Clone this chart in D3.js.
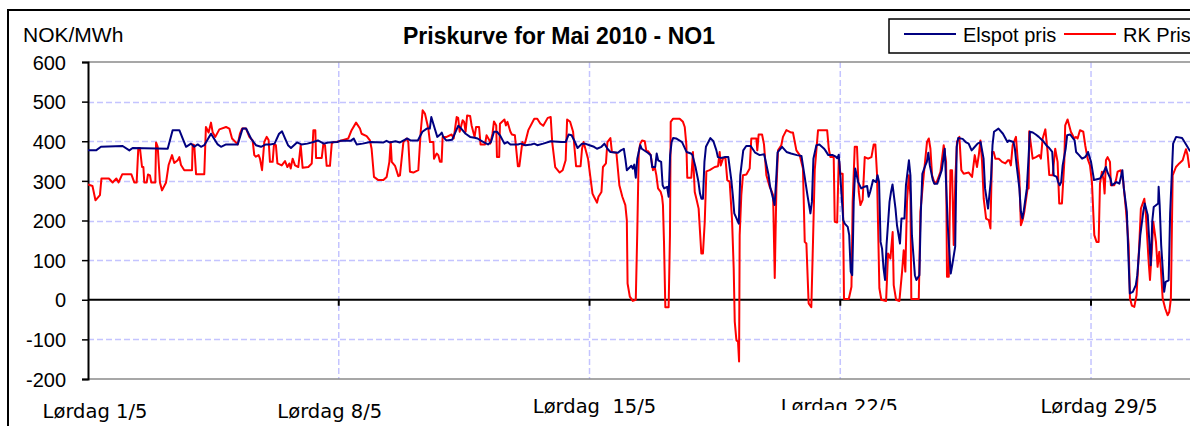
<!DOCTYPE html>
<html><head><meta charset="utf-8">
<script src="https://cdn.jsdelivr.net/npm/d3@7"></script>
<style>body{margin:0;background:#fff;overflow:hidden}svg{display:block}</style>
</head><body><svg id="c" width="1190" height="426"></svg>
<script>
// ---- data ----
const titleText = "Priskurve for Mai 2010 - NO1";
const unitLabel = "NOK/MWh";
const seriesNames = ["Elspot pris", "RK Pris"];
const yTicks = [600, 500, 400, 300, 200, 100, 0, -100, -200];
const weekHours = [0, 168, 336, 504, 672];
const weekLabels = ["Lørdag 1/5", "Lørdag 8/5", "Lørdag  15/5", "Lørdag 22/5", "Lørdag 29/5"];

const elspotHours = [0,5.4,8.7,23.2,27.7,29.9,53.4,56.7,61.2,63.4,65.7,69,71.2,73.5,75.7,77.9,82.4,86.9,89.1,92.5,100.3,103.6,105.9,109.2,112.5,115.9,119.2,
122,125,128,130,132,134,136,140,143,147,151,154,158,161,167,169,176,178,180,184,189,198,200,202,206,209,214,216,221,224,227,229,230,232,234,236,237,238,240,244,
248,250,253,256,259,261,263,265,268,270,272,274,276,279,281,283,288,290,293,297,299,301,305,310,317,320,322,324,326,328,331,333,336,339,341,344,346,348,350,355,357,359,360,361,364,365,366,367,368,370,
371,375,377,378,380,381,382,384,385,386,388,389,390,391,392,394,398,401,404,405,407,409,410,411,412,413,414,417,419,421,422,424,427,429,431,432,433,435,436,437,439,441,444,447,450,453,456,457,459,460,461,462,465,468,471,475,478,480,482,484,485,486,488,490,493,
494,496,499,501,502,503,504,506,507,509,510,511,512,512.5,513,514,516,518,520,522,523,524,526,528,529,530,531,532,533,534,535,537,538,539,541,542,544,545,547,548,550,551,552,554,555,557,558,559,561,562,563,564,566,567,569,572,574,576,578,579,581,582,583,586,588,590,592,593,596,598,600,601,603,605,606,607,610,613,616,
617,620,621,622,624,625,626,627,629,630,631,633,635,637,640,642,644,646,647,649,650,651,652,653,655,656,658,661,662,664,666,668,669,670,672,674,678,680,682,683,685,686,689,691,693,694,696,697,698,700,702,703,705,707,708,710,712,712.5,713,714,717,717.3,718,719,721,722,724,725,727,729,733,736,738,744];
const elspotValues = [377,377,386,388,377,383,381,428,428,407,386,394,386,392,386,390,419,392,386,392,392,432,432,407,390,386,392,
392,394,419,425,407,390,383,397,392,394,398,402,394,397,398,401,401,407,392,394,398,397,401,397,400,397,407,402,402,424,432,432,461,436,411,417,422,411,402,404,
439,432,419,411,409,407,402,398,392,398,424,424,415,394,398,392,392,394,390,392,394,390,394,400,398,398,417,415,400,383,394,394,390,386,381,386,394,381,373,371,377,381,356,327,338,331,341,308,356,390,
381,371,365,335,335,369,352,348,289,281,285,260,365,398,408,407,398,373,369,365,335,297,268,255,255,348,386,408,400,377,360,358,360,360,302,264,218,201,192,314,377,388,388,371,365,367,314,285,255,239,298,372,386,373,369,365,363,314,264,218,247,356,390,392,382,
377,365,365,361,357,366,314,201,192,184,163,71,62,146,247,331,297,281,285,287,260,272,302,297,314,297,146,129,79,50,138,247,272,291,230,188,142,205,205,289,352,314,163,62,50,62,222,318,339,348,371,339,302,293,293,327,381,188,66,87,134,386,408,406,398,394,377,381,394,398,356,281,230,306,390,424,432,419,398,
402,398,381,344,281,222,205,226,281,348,424,422,417,411,400,390,383,373,314,310,297,289,297,339,381,415,417,402,373,365,356,360,365,373,348,302,306,318,335,322,306,289,297,293,327,281,222,113,16,20,37,62,163,222,243,213,87,138,197,234,243,285,238,138,20,45,49,218,394,411,408,390,377,360];

const rkHours = [0,3,5,8,9,14,16.5,19,20.5,23,29,31,32.6,33.7,34.8,36.2,37.1,37.7,39.3,40.2,41.5,42.4,45.1,45.6,46.7,48.2,49.6,52.3,54,56.3,57.8,60.1,61.2,62.3,64.5,69.7,70.1,71.2,72.4,77.9,79,80.8,82.4,83.5,85.3,88,92.5,94.7,96.5,100.3,101.8,103.2,105.9,108.1,110.3,111.4,112.5,114.3,115.2,116.6,118.1,119.7,121,121.9,
123.7,124.6,125.9,126.9,129.8,132,133.6,134.9,135.8,137.1,138.7,140.9,142.5,143.8,147.6,149.9,151,152.3,152.8,156.6,157.7,158.8,159.9,162.1,163.3,164.4,166.6,174.4,176.6,179.6,182.2,183.3,186.7,188.9,190,191.6,194.5,197.9,200.1,201.9,202.8,203.5,205.7,207.9,209,211.3,213.5,214.6,215.7,218,221.3,222.9,224.2,225.8,228,229.1,231.4,231.8,233.6,234.7,235.8,236.9,237.6,240.3,243.6,
245,247,248,249,251,252,253,254,256,257,259,260,262,263,266,267,269,269.5,271,272,273.5,274,275.5,276,279,280,281,283,284,286,288,289,291,292,293,295,299,301,303,305,308,310,311,313,316,318,320,321,323,325,327,330,331,332,335,337,338,339,341,342,344,345,347,348,350,351,354,356,358,360,361,361.5,363,365,367,368,369,370,
371.2,373,374.1,375.2,377,378.5,379.7,380.8,381.9,383.7,384.6,385.2,385.9,386.8,389,389.9,390.4,392,396.4,398.6,399.8,400.9,401.5,404.2,405.3,406.5,407.6,409.1,410.9,412,413.2,414.3,416.5,419.9,422.1,423.2,423.9,425.4,427,428.3,429.9,431.5,432.6,433.3,434.4,435.5,436.2,436.6,437.7,438.8,441.1,443.3,444.4,447.8,448.4,449.3,451.6,452.9,454.5,456.7,457.8,459,460.1,461.2,462.3,464.5,465.6,467.9,471.2,472.3,474.6,476.8,479,480.2,481.3,482.8,484.6,485.7,486.9,489.1,492.4,
495.2,496.3,497.4,499.6,500.3,501.9,503,504.1,505.6,506.5,509.7,511.5,512.3,513.7,515.2,516.4,517.5,519,520.4,522.6,524.9,526.4,527.5,528.6,530.2,531.5,534.7,536,537.6,539.1,539.8,541.4,543.6,545.4,546.5,547.6,548.7,549.9,551,551.6,556.6,557.7,559.9,562.1,563.3,564.4,565.5,567.3,568.8,571.1,573.3,574.9,575.5,576.7,577.8,578.9,580,581.1,582.2,583.8,585.1,586.7,590.1,592.3,594.1,595.6,596.8,597.9,599,600.1,601.7,603.5,604.6,605.7,606.8,607.9,610.2,612.4,614.6,616.4,
617.2,618.3,619.5,621.7,622.8,623.9,625,626.2,627.3,629.5,630.2,630.6,632.9,635.1,637.3,638.4,639.6,641.4,642.9,644,646.3,648,649.6,650.7,652.5,654.1,654.7,656.3,658.5,660.8,661.9,663,664.6,666.8,668.1,669.7,671.3,672.6,674.2,675.7,677.1,678,679.3,680.4,681.1,682,683.1,684.7,685.3,687.6,688.7,689.8,692,693.6,695.4,697.2,698.1,699.4,701,702.5,704.3,705.4,707.7,708.8,710.6,711.5,712.8,713.7,715.5,716.6,717.7,718.8,720,721.7,723.3,724.4,725.5,726.7,728.9,731.1,733.4,735.6,736.7,737.8,744];
const rkValues = [291,287,251,264,306,306,296,306,296,317,317,296,296,383,383,335,335,296,296,316,314,296,296,397,386,296,276,296,340,365,345,352,360,340,327,327,392,390,317,317,436,422,447,423,411,430,436,432,407,392,419,432,432,411,402,365,361,365,356,327,398,411,403,348,
348,392,390,344,339,350,335,344,331,356,339,335,390,333,335,344,428,428,358,358,394,390,338,338,394,398,398,407,428,447,432,419,413,402,381,310,302,302,310,348,398,348,338,312,314,398,407,398,323,321,327,424,478,469,432,398,398,356,369,365,348,348,411,411,417,
407,461,459,424,453,449,424,465,464,440,411,436,436,392,392,415,402,394,419,450,440,360,360,444,455,440,449,424,417,415,337,337,398,390,398,428,457,457,445,439,459,461,398,335,321,327,352,455,449,424,337,337,381,398,356,297,268,260,245,260,272,335,344,398,408,373,371,289,260,239,201,41,8,-3,0,171,373,394,
402,400,375,375,365,327,335,314,281,272,260,239,146,-19,-19,163,449,457,457,449,436,390,308,308,373,272,255,230,117,117,197,324,327,335,337,373,339,356,360,302,298,201,79,-55,-102,-106,-156,163,264,314,316,331,407,407,377,417,417,392,314,285,276,264,55,281,377,390,411,428,422,422,377,365,331,146,142,-9,-19,142,327,428,428,
428,381,360,360,197,195,356,318,318,2,2,33,247,386,386,272,239,252,360,356,360,392,392,318,29,0,-3,117,104,171,37,0,-3,71,125,71,247,314,264,2,2,222,314,398,407,381,314,293,299,323,390,348,58,58,327,327,138,306,398,411,327,318,321,310,365,335,365,402,348,255,205,201,180,373,373,356,356,348,344,352,
352,339,390,411,356,314,188,201,222,281,281,425,356,360,365,356,407,430,373,315,314,381,348,243,243,348,440,455,424,407,411,407,428,424,390,356,339,297,163,146,146,293,323,302,268,352,360,348,289,289,302,323,327,297,226,138,3,-15,-18,12,138,230,255,213,96,50,129,197,146,83,121,79,3,-22,-39,-31,3,314,335,344,352,380,365,335,340];

// ---- layout ----
const svg = d3.select("#c");
const W = 1190, H = 426;
const plot = {left: 88, top: 62, bottom: 379};
const hourPx = 1.4926;
const x = d3.scaleLinear().domain([0, 744]).range([plot.left, plot.left + 744 * hourPx]);
const y = d3.scaleLinear().domain([-200, 600]).range([plot.bottom, plot.top]);
const gridColor = "#c4c4ff";
const fontSans = "'Liberation Sans', Arial, sans-serif";

// outer chart border
svg.append("rect").attr("x", 8).attr("y", 10).attr("width", W).attr("height", H)
  .attr("fill", "none").attr("stroke", "#000").attr("stroke-width", 2);

// horizontal gridlines
svg.append("g").selectAll("line").data(yTicks.filter(v => v !== 0 && v !== 600 && v !== -200)).join("line")
  .attr("x1", plot.left).attr("x2", W).attr("y1", d => Math.round(y(d)) + 0.5).attr("y2", d => Math.round(y(d)) + 0.5)
  .attr("stroke", gridColor).attr("stroke-width", 1.5).attr("stroke-dasharray", "6,3");
// vertical gridlines
svg.append("g").selectAll("line").data(weekHours.slice(1)).join("line")
  .attr("x1", d => x(d)).attr("x2", d => x(d)).attr("y1", plot.top).attr("y2", plot.bottom)
  .attr("stroke", gridColor).attr("stroke-width", 1.5).attr("stroke-dasharray", "6,3");

// plot frame (top and bottom gray)
svg.append("line").attr("x1", plot.left).attr("x2", W).attr("y1", plot.top).attr("y2", plot.top)
  .attr("stroke", "#8a8a8a").attr("stroke-width", 1.5);
svg.append("line").attr("x1", plot.left).attr("x2", W).attr("y1", plot.bottom).attr("y2", plot.bottom)
  .attr("stroke", "#8a8a8a").attr("stroke-width", 1.5);

// zero line (category axis)
svg.append("line").attr("x1", plot.left).attr("x2", W).attr("y1", y(0)).attr("y2", y(0))
  .attr("stroke", "#000").attr("stroke-width", 2);
svg.append("g").selectAll("line").data(weekHours.slice(1)).join("line")
  .attr("x1", d => x(d)).attr("x2", d => x(d)).attr("y1", y(0)).attr("y2", y(0) + 6)
  .attr("stroke", "#000").attr("stroke-width", 2);

// y axis
const yAxis = d3.axisLeft(y).tickValues(yTicks).tickSize(6).tickPadding(16).tickFormat(d => String(d));
const ya = svg.append("g").attr("transform", `translate(${plot.left},0)`).call(yAxis);
ya.select(".domain").attr("stroke", "#000").attr("stroke-width", 2);
ya.selectAll(".tick line").attr("stroke", "#000").attr("stroke-width", 1.5);
ya.selectAll(".tick text").attr("font-family", fontSans).attr("font-size", 20).attr("fill", "#000")
  .attr("dy", "0.36em");

// series lines
const clip = svg.append("clipPath").attr("id", "pc").append("rect")
  .attr("x", plot.left).attr("y", plot.top - 2).attr("width", W - plot.left).attr("height", plot.bottom - plot.top + 4);
const line = d3.line().x(d => x(d[0])).y(d => y(d[1]));
const elspot = elspotHours.map((h, i) => [h, elspotValues[i]]);
const rk = rkHours.map((h, i) => [h, rkValues[i]]);
const g = svg.append("g").attr("clip-path", "url(#pc)");
g.append("path").datum(rk).attr("d", line).attr("fill", "none").attr("stroke", "#ff0000")
  .attr("stroke-width", 2).attr("stroke-linejoin", "round");
g.append("path").datum(elspot).attr("d", line).attr("fill", "none").attr("stroke", "#000080")
  .attr("stroke-width", 2).attr("stroke-linejoin", "round");

// x labels
const labelDx = [7, -9, 5, -1, 8];
const labelBase = [418, 418, 413, 413, 413];
svg.append("clipPath").attr("id", "lc").append("rect").attr("x", 0).attr("y", 0).attr("width", W).attr("height", 410);
svg.append("g").selectAll("text").data(weekHours).join("text")
  .attr("x", (d, i) => x(d) + labelDx[i]).attr("y", (d, i) => labelBase[i])
  .attr("text-anchor", "middle").attr("font-family", "'DejaVu Sans', Verdana, sans-serif")
  .attr("font-size", 19.5).attr("fill", "#000").style("white-space", "pre")
  .attr("clip-path", (d, i) => i === 3 ? "url(#lc)" : null)
  .text((d, i) => weekLabels[i]);

// unit label and title
svg.append("text").attr("x", 23).attr("y", 42).attr("font-family", fontSans).attr("font-size", 21)
  .attr("fill", "#000").text(unitLabel);
svg.append("text").attr("x", 559).attr("y", 44).attr("text-anchor", "middle").attr("font-family", fontSans)
  .attr("font-weight", "bold").attr("font-size", 23).attr("fill", "#000").text(titleText);

// legend
const lg = svg.append("g");
lg.append("rect").attr("x", 889).attr("y", 19).attr("width", 400).attr("height", 34)
  .attr("fill", "#fff").attr("stroke", "#000").attr("stroke-width", 1.5);
const legendColors = ["#000080", "#ff0000"];
const legendLineX = [904, 1064];
seriesNames.forEach((name, i) => {
  lg.append("line").attr("x1", legendLineX[i]).attr("x2", legendLineX[i] + 52).attr("y1", 34).attr("y2", 34)
    .attr("stroke", legendColors[i]).attr("stroke-width", 2);
  lg.append("text").attr("x", legendLineX[i] + 59).attr("y", 42).attr("font-family", fontSans)
    .attr("font-size", 20).attr("fill", "#000").text(name);
});
</script></body></html>
